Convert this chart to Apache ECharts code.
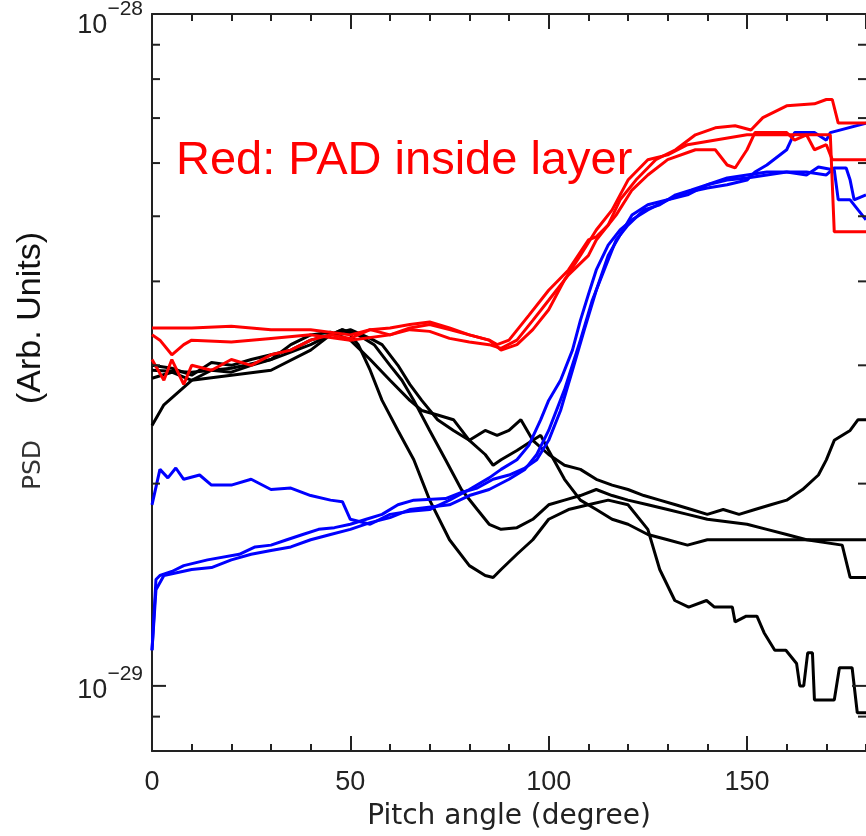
<!DOCTYPE html>
<html>
<head>
<meta charset="utf-8">
<script src="https://cdn.jsdelivr.net/npm/echarts@6/dist/echarts.min.js"></script>
<style>
  html, body { margin: 0; padding: 0; background: #fff; }
  #chart { width: 866px; height: 836px; }
</style>
</head>
<body>
<div id="chart"></div>
<script>
// PSD in units of 1e-29, pairs of [pitch angle (deg), psd]
const redA = [[0,3.41],[10,3.41],[20,3.43],[30,3.39],[40,3.39],[50,3.33],[55,3.39],[60,3.41],[65,3.45],[70,3.48],[75,3.41],[80,3.33],[85,3.27],[87,3.22],[90,3.27],[95,3.56],[100,3.88],[105,4.16],[110,4.61],[112,4.66],[115,4.85],[118,5.29],[122,5.66],[127,6.07],[132,6.28],[137,6.61],[142,6.77],[147,6.82],[151,6.72],[154,7.01],[160,7.30],[167,7.35],[170,7.46],[171.5,7.46],[173,6.88],[180,6.88]]
const redB = [[0,3.33],[2,3.27],[5,3.11],[8,3.22],[10,3.27],[20,3.25],[30,3.29],[40,3.33],[50,3.27],[60,3.33],[65,3.39],[70,3.37],[75,3.29],[80,3.25],[85,3.22],[88,3.18],[92,3.27],[96,3.50],[100,3.75],[105,4.09],[110,4.37],[112,4.61],[117,5.02],[121,5.47],[125,5.76],[130,6.07],[137,6.28],[142,6.28],[145,5.96],[147,5.90],[150,6.28],[152,6.66],[160,6.66],[162,6.49],[165,6.61],[167,6.28],[170,6.39],[171.5,6.07],[180,6.07]]
const redC = [[0,3.06],[3,2.85],[5,3.06],[8,2.81],[10,3.00],[15,2.95],[20,3.06],[25,3.00],[30,3.11],[35,3.16],[40,3.27],[45,3.33],[50,3.29],[55,3.39],[60,3.33],[65,3.41],[70,3.45],[75,3.39],[80,3.33],[85,3.27],[88,3.16],[92,3.22],[96,3.39],[100,3.63],[104,4.02],[108,4.37],[112,4.77],[116,5.11],[120,5.66],[125,6.07],[130,6.17],[135,6.39],[150,6.61],[160,6.61],[171,6.61],[172,4.74],[180,4.74]]

const blueA = [[0,1.86],[2,2.10],[4,2.04],[6,2.11],[8,2.03],[12,2.06],[15,1.99],[20,1.99],[25,2.03],[30,1.96],[35,1.97],[40,1.92],[45,1.89],[48,1.88],[50,1.77],[55,1.74],[60,1.80],[65,1.82],[70,1.83],[75,1.89],[80,1.96],[85,2.04],[88,2.10],[92,2.17],[95,2.28],[98,2.49],[100,2.66],[103,2.85],[106,3.16],[108,3.50],[110,3.82],[112,4.16],[115,4.53],[118,4.77],[121,4.94],[125,5.11],[130,5.29],[135,5.38],[140,5.57],[145,5.66],[150,5.70],[155,5.76],[160,5.82],[165,5.82],[170,5.76],[172,5.90],[175,5.90],[176,5.66],[177,5.29],[180,5.38]]
const blueB = [[0,1.13],[1,1.44],[2,1.46],[5,1.48],[8,1.51],[14,1.54],[22,1.57],[26,1.61],[30,1.62],[34,1.65],[38,1.68],[42,1.71],[46,1.72],[50,1.74],[54,1.77],[58,1.80],[62,1.86],[66,1.89],[74,1.90],[78,1.94],[82,1.97],[86,2.03],[90,2.06],[94,2.11],[97,2.17],[100,2.32],[103,2.57],[106,2.95],[109,3.39],[112,3.88],[115,4.37],[118,4.69],[121,5.02],[125,5.20],[130,5.29],[135,5.43],[140,5.51],[145,5.57],[150,5.66],[152,5.82],[155,5.96],[160,6.28],[162,6.66],[167,6.66],[170,6.49],[171,6.66],[180,6.88]]
const blueC = [[0,1.13],[1,1.39],[3,1.46],[10,1.49],[15,1.50],[20,1.54],[25,1.57],[30,1.59],[35,1.61],[40,1.65],[45,1.68],[50,1.71],[55,1.75],[60,1.78],[65,1.83],[75,1.86],[80,1.92],[85,1.96],[90,2.03],[94,2.10],[97,2.21],[100,2.40],[104,2.76],[108,3.27],[111,3.75],[114,4.16],[117,4.61],[120,4.85],[124,5.11],[128,5.20],[132,5.38],[136,5.47],[140,5.57],[145,5.70],[155,5.82],[160,5.82],[165,5.76],[168,5.92],[172,5.86],[173,5.29],[176,5.29],[178,5.11],[180,4.94]]

const blackA = [[0,2.44],[3,2.62],[10,2.85],[20,2.90],[30,2.95],[40,3.16],[45,3.33],[48,3.39],[50,3.33],[52,3.22],[55,2.95],[58,2.66],[62,2.40],[66,2.17],[70,1.89],[75,1.65],[80,1.51],[84,1.46],[86,1.45],[88,1.49],[92,1.57],[96,1.65],[100,1.77],[105,1.83],[110,1.86],[115,1.89],[120,1.86],[125,1.71],[128,1.49],[131.8,1.34],[135.3,1.31],[139.8,1.34],[141.8,1.31],[146.3,1.31],[147,1.245],[149.8,1.27],[152.5,1.27],[154.3,1.20],[157,1.13],[159.8,1.13],[162.5,1.08],[163.3,1.00],[164.3,1.00],[165.3,1.12],[166.5,1.12],[167,0.953],[172,0.953],[173.3,1.064],[176.5,1.064],[177.8,0.912],[180,0.912]]
const blackB = [[0,2.95],[10,2.93],[20,2.97],[30,3.06],[40,3.22],[45,3.33],[50,3.39],[55,3.29],[58,3.22],[62,3.00],[65,2.81],[68,2.66],[72,2.49],[76,2.40],[80,2.32],[84,2.40],[87,2.36],[90,2.40],[93,2.49],[96,2.32],[100,2.21],[104,2.13],[108,2.10],[112,2.03],[116,1.99],[120,1.96],[124,1.92],[128,1.89],[132,1.86],[136,1.83],[140,1.80],[144,1.83],[148,1.80],[152,1.83],[156,1.86],[160,1.89],[164,1.96],[168,2.06],[170,2.17],[172,2.32],[176,2.40],[178,2.49],[180,2.49]]
const blackC = [[0,3.00],[5,2.97],[10,2.90],[15,3.03],[20,3.00],[25,3.06],[30,3.11],[35,3.16],[40,3.27],[45,3.33],[48,3.39],[52,3.33],[56,3.22],[60,3.00],[63,2.85],[66,2.66],[70,2.40],[74,2.17],[78,1.96],[82,1.83],[85,1.74],[88,1.71],[92,1.72],[96,1.77],[100,1.86],[104,1.89],[108,1.92],[112,1.96],[116,1.92],[120,1.89],[125,1.86],[130,1.83],[135,1.80],[140,1.77],[150,1.74],[155,1.71],[160,1.68],[165,1.65],[174,1.62],[176,1.45],[180,1.45]]
const blackD = [[0,2.87],[5,2.93],[10,2.85],[15,2.95],[20,2.93],[25,3.00],[30,3.06],[35,3.22],[40,3.33],[45,3.36],[50,3.27],[55,3.06],[60,2.85],[65,2.66],[68,2.57],[72,2.53],[76,2.49],[80,2.32],[84,2.21],[86,2.13],[88,2.17],[92,2.24],[96,2.32],[98,2.36],[100,2.24],[104,2.03],[108,1.89],[112,1.83],[116,1.77],[120,1.74],[125,1.68],[130,1.65],[135,1.62],[140,1.65],[180,1.65]]

// axis ticks and labels
const yMajorTicks = [1, 10]
const yMinorTicks = [0.9, 2, 3, 4, 5, 6, 7, 8, 9]
const yTickLabels = [[10, '10', '\u221228'], [1, '10', '\u221229']]

const chart = echarts.init(document.getElementById('chart'))

function lineSeries(data, color) {
    return {
        type: 'line',
        data: data,
        showSymbol: false,
        animation: false,
        lineStyle: { color: color, width: 3 },
        clip: true,
        z: 3
    }
}

function tickSeries(values, len) {
    return {
        type: 'custom',
        data: values.map(v => [0, v]),
        clip: false,
        animation: false,
        silent: true,
        z: 4,
        renderItem(params, api) {
            const y = api.coord([0, api.value(1)])[1]
            const cs = params.coordSys
            return {
                type: 'group',
                children: [
                    { type: 'line', shape: { x1: cs.x, y1: y, x2: cs.x + len, y2: y }, style: { stroke: '#222', lineWidth: 2 } },
                    { type: 'line', shape: { x1: cs.x + cs.width - len, y1: y, x2: cs.x + cs.width, y2: y }, style: { stroke: '#222', lineWidth: 2 } }
                ]
            }
        }
    }
}

const labelSeries = {
    type: 'custom',
    data: yTickLabels.map(t => [0, t[0]]),
    clip: false,
    animation: false,
    silent: true,
    renderItem(params, api) {
        const t = yTickLabels[params.dataIndex]
        const y = api.coord([0, api.value(1)])[1]
        const top = params.dataIndex === 0
        return {
            type: 'text',
            x: params.coordSys.x - 9,
            y: y + (top ? 5 : -2),
            style: {
                text: '{b|' + t[1] + '}{s|' + t[2] + '}',
                align: 'right',
                verticalAlign: 'middle',
                fill: '#222',
                rich: {
                    b: { fontFamily: 'Liberation Sans', fontSize: 27, lineHeight: 40, verticalAlign: 'bottom', fill: '#222' },
                    s: { fontFamily: 'Liberation Sans', fontSize: 21, lineHeight: 20, verticalAlign: 'top', fill: '#222' }
                }
            }
        }
    }
}

const axisLine = { show: true, onZero: false, lineStyle: { color: '#222', width: 2 } }

chart.setOption({
    animation: false,
    backgroundColor: '#fff',
    grid: { left: 152, top: 14, width: 720, height: 738 },
    xAxis: [
        {
            type: 'value', min: 0, max: 180, interval: 50, position: 'bottom',
            axisLine: axisLine,
            axisTick: { inside: true, length: 15, lineStyle: { color: '#222', width: 2 } },
            axisLabel: { showMaxLabel: false, margin: 18, fontFamily: 'Liberation Sans', fontSize: 27, color: '#222' },
            splitLine: { show: false },
            name: 'Pitch angle (degree)',
            nameLocation: 'middle',
            nameGap: 52,
            nameTextStyle: { fontFamily: 'DejaVu Sans', fontSize: 28, color: '#222' }
        },
        {
            type: 'value', min: 0, max: 180, interval: 10, position: 'bottom',
            axisLine: { show: false },
            axisTick: { inside: true, length: 7, lineStyle: { color: '#222', width: 2 } },
            axisLabel: { show: false },
            splitLine: { show: false }
        },
        {
            type: 'value', min: 0, max: 180, interval: 50, position: 'top',
            axisLine: axisLine,
            axisTick: { inside: true, length: 15, lineStyle: { color: '#222', width: 2 } },
            axisLabel: { show: false },
            splitLine: { show: false }
        },
        {
            type: 'value', min: 0, max: 180, interval: 10, position: 'top',
            axisLine: { show: false },
            axisTick: { inside: true, length: 7, lineStyle: { color: '#222', width: 2 } },
            axisLabel: { show: false },
            splitLine: { show: false }
        }
    ],
    yAxis: {
        type: 'log', logBase: 10, min: 0.8, max: 10,
        axisLine: axisLine,
        axisTick: { show: false },
        axisLabel: { show: false },
        splitLine: { show: false }
    },
    graphic: [
        {
            type: 'text', left: 176, top: 138,
            style: { text: 'Red: PAD inside layer', fontFamily: 'Liberation Sans', fontSize: 47, fill: '#ff0000' }
        },
        {
            type: 'text', x: 31, y: 318, rotation: Math.PI / 2,
            style: { text: '(Arb. Units)', fontFamily: 'Liberation Sans', fontSize: 34, fill: '#111', align: 'center', verticalAlign: 'middle' }
        },
        {
            type: 'text', x: 33, y: 465, rotation: Math.PI / 2,
            style: { text: 'PSD', fontFamily: 'DejaVu Sans', fontSize: 25, fill: '#333', align: 'center', verticalAlign: 'middle' }
        }
    ],
    series: [
        lineSeries(blackA, '#000000'),
        lineSeries(blackB, '#000000'),
        lineSeries(blackC, '#000000'),
        lineSeries(blackD, '#000000'),
        lineSeries(blueA, '#0000ff'),
        lineSeries(blueB, '#0000ff'),
        lineSeries(blueC, '#0000ff'),
        lineSeries(redA, '#ff0000'),
        lineSeries(redB, '#ff0000'),
        lineSeries(redC, '#ff0000'),
        tickSeries(yMajorTicks, 14),
        tickSeries(yMinorTicks, 8),
        labelSeries
    ]
})
</script>
</body>
</html>
